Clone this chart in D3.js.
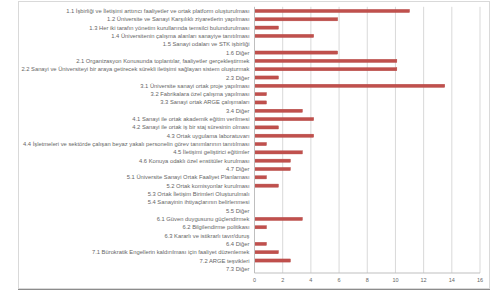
<!DOCTYPE html>
<html>
<head>
<meta charset="utf-8">
<script src="https://cdn.jsdelivr.net/npm/d3@7"></script>
<style>
  body { margin: 0; background: #fff; }
</style>
</head>
<body>
<svg id="chart"></svg>
<script>
const width = 499;
const height = 291;

const categories = [
  "1.1 İşbirliği ve İletişimi arttırıcı faaliyetler ve ortak platform oluşturulması",
  "1.2 Üniversite ve Sanayi Karşılıklı ziyaretlerin yapılması",
  "1.3 Her iki tarafın yönetim kurullarında temsilci bulundurulması",
  "1.4 Üniversitenin çalışma alanları sanayiye tanıtılması",
  "1.5 Sanayi odaları ve STK işbirliği",
  "1.6 Diğer",
  "2.1 Organizasyon Konusunda toplantılar, faaliyetler gerçekleştirmek",
  "2.2 Sanayi ve Üniversiteyi bir araya getirecek sürekli iletişimi sağlayan sistem oluşturmak",
  "2.3 Diğer",
  "3.1 Üniversite sanayi ortak proje yapılması",
  "3.2 Fabrikalara özel çalışma yapılması",
  "3.3 Sanayi ortak ARGE çalışmaları",
  "3.4 Diğer",
  "4.1 Sanayi ile ortak akademik eğitim verilmesi",
  "4.2 Sanayi ile ortak iş bir staj süresinin olması",
  "4.3 Ortak uygulama laboratuvarı",
  "4.4 İşletmeleri ve sektörde çalışan beyaz yakalı personelin görev tanımlarının tanıtılması",
  "4.5 İletişimi geliştirici eğitimler",
  "4.6 Konuya odaklı özel enstitüler kurulması",
  "4.7 Diğer",
  "5.1 Üniversite Sanayi Ortak Faaliyet Planlaması",
  "5.2 Ortak komisyonlar kurulması",
  "5.3 Ortak İletişim Birimleri Oluşturulmalı",
  "5.4 Sanayinin ihtiyaçlarının belirlenmesi",
  "5.5 Diğer",
  "6.1 Güven duygusunu güçlendirmek",
  "6.2 Bilgilendirme politikası",
  "6.3 Kararlı ve istikrarlı tavır/duruş",
  "6.4 Diğer",
  "7.1 Bürokratik Engellerin kaldırılması için faaliyet düzenlemek",
  "7.2 ARGE teşvikleri",
  "7.3 Diğer"
];

const values = [
  11.0, 5.9, 1.7, 4.2, 0, 5.9, 10.1, 10.1, 1.7,
  13.5, 0.85, 0.85, 3.4,
  4.2, 1.7, 4.2, 0.85, 3.4, 2.55, 2.55,
  0.85, 1.7, 0, 0, 0,
  3.4, 0.85, 0, 0.85,
  1.7, 2.55, 0
];

const xTicks = [0, 2, 4, 6, 8, 10, 12, 14, 16];

const data = categories.map((c, i) => ({ name: c, value: values[i] }));

const svg = d3.select("#chart")
    .attr("width", width)
    .attr("height", height)
    .style("font-family", "'Liberation Sans', Arial, sans-serif");

// chart frame
svg.append("rect")
    .attr("x", 18.5).attr("y", 1.5)
    .attr("width", 471).attr("height", 287)
    .attr("fill", "#fff")
    .attr("stroke", "#d9d9d9");
svg.append("line")
    .attr("x1", 18).attr("x2", 490)
    .attr("y1", 289.5).attr("y2", 289.5)
    .attr("stroke", "#8c8c8c");

const margin = { left: 254.5, right: 19, top: 6.8, bottom: 18 };

const x = d3.scaleLinear()
    .domain([0, 16])
    .range([margin.left, width - margin.right]);

const y = d3.scaleBand()
    .domain(categories)
    .range([margin.top, height - margin.bottom])
    .paddingInner(0.62)
    .paddingOuter(0.31);

// gridlines
svg.append("g")
    .selectAll("line")
    .data(xTicks.slice(1))
    .join("line")
    .attr("x1", d => x(d)).attr("x2", d => x(d))
    .attr("y1", margin.top).attr("y2", height - margin.bottom)
    .attr("stroke", "#d9d9d9")
    .attr("stroke-width", 1);

// bars
svg.append("g")
    .selectAll("rect")
    .data(data)
    .join("rect")
    .attr("x", x(0))
    .attr("y", d => y(d.name))
    .attr("width", d => x(d.value) - x(0))
    .attr("height", y.bandwidth())
    .attr("fill", "#c0504d")
    .attr("stroke", "#b34743")
    .attr("stroke-width", 0.4);

// y axis line
svg.append("line")
    .attr("x1", x(0)).attr("x2", x(0))
    .attr("y1", margin.top).attr("y2", height - margin.bottom)
    .attr("stroke", "#bfbfbf");

// bottom axis line
svg.append("line")
    .attr("x1", x(0)).attr("x2", x(16))
    .attr("y1", height - margin.bottom).attr("y2", height - margin.bottom)
    .attr("stroke", "#bfbfbf");

// category labels
svg.append("g")
    .selectAll("text")
    .data(categories)
    .join("text")
    .attr("x", x(0) - 5)
    .attr("y", d => y(d) + y.bandwidth() / 2)
    .attr("dy", "0.35em")
    .attr("text-anchor", "end")
    .attr("font-size", 5.8)
    .attr("fill", "#666")
    .text(d => d);

// x tick labels
svg.append("g")
    .selectAll("text")
    .data(xTicks)
    .join("text")
    .attr("x", d => x(d))
    .attr("y", height - margin.bottom + 9)
    .attr("text-anchor", "middle")
    .attr("font-size", 5.5)
    .attr("fill", "#666")
    .text(d => d);
</script>
</body>
</html>
